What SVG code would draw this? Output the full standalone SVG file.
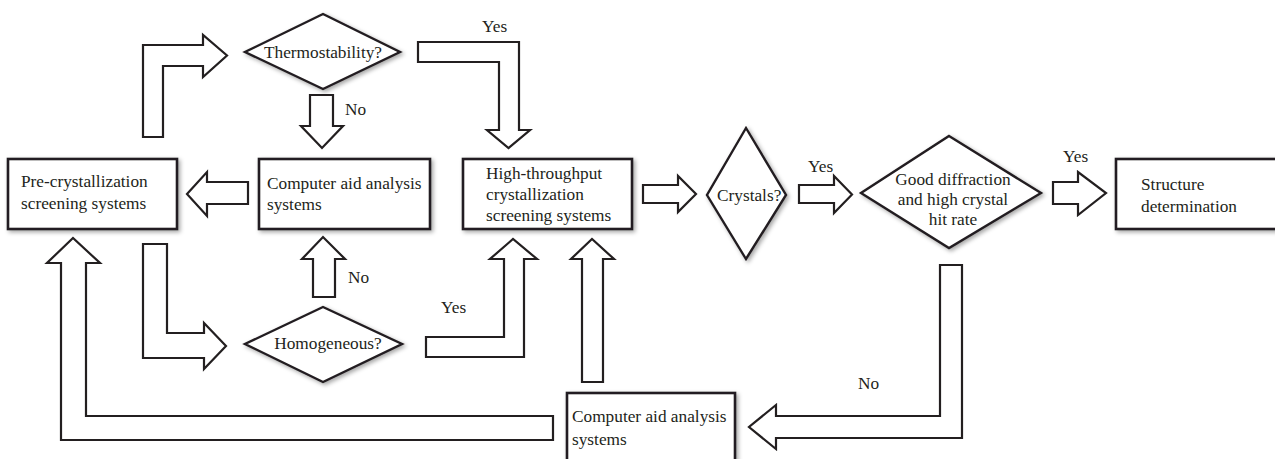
<svg xmlns="http://www.w3.org/2000/svg" width="1275" height="459" viewBox="0 0 1275 459">
<style>
.box{fill:#fff;stroke:#231f20;stroke-width:2.6;filter:url(#sh)}
.dia{fill:#fff;stroke:#231f20;stroke-width:2.4;filter:url(#sh)}
.arr{fill:#fff;stroke:#231f20;stroke-width:2.2;stroke-linejoin:miter}
text{font-family:"Liberation Serif","Times New Roman",serif;font-size:17.3px;fill:#231f20}
</style>
<defs>
<filter id="sh" x="-10%" y="-10%" width="130%" height="140%">
<feDropShadow dx="2" dy="2" stdDeviation="2.2" flood-color="#000" flood-opacity="0.35"/>
</filter>
</defs>
<rect width="1275" height="459" fill="#fff"/>
<g id="connectors">
<polygon class="arr" points="143,137 143,45 203,45 203,35 227,55.5 203,77 203,66 163,66 163,137"/>
<polygon class="arr" points="310,95 333,95 333,126 343,126 322,148 301,126 310,126"/>
<polygon class="arr" points="418,42 519,42 519,130 530,130 508.5,148 487,130 499,130 499,62 418,62"/>
<polygon class="arr" points="248,182 207,182 207,172 187,194 207,216 207,204 248,204"/>
<polygon class="arr" points="143,244 167,244 167,333 204,333 204,323 226,346 204,369 204,358 143,358"/>
<polygon class="arr" points="313,297 313,259 302,259 323,237 345,259 335,259 335,297"/>
<polygon class="arr" points="426,337 504,337 504,259 490,259 513,239 537,259 524,259 524,357 426,357"/>
<polygon class="arr" points="582,382 582,259 571,259 592,239 614,259 603,259 603,382"/>
<polygon class="arr" points="553,416 86,416 86,263 100,263 73,238 47,263 61,263 61,440 553,440"/>
<polygon class="arr" points="643,185 678,185 678,176 696,194 678,212 678,203 643,203"/>
<polygon class="arr" points="799,185 834,185 834,176 852,194.5 834,213 834,203 799,203"/>
<polygon class="arr" points="1053,182 1078,182 1078,172 1106,193 1078,215 1078,204 1053,204"/>
<polygon class="arr" points="940,265 962,265 962,438 776,438 776,449 749,427 776,405 776,416 940,416"/>
<text x="345" y="115">No</text>
<text x="482" y="32">Yes</text>
<text x="348" y="283">No</text>
<text x="441" y="313">Yes</text>
<text x="808" y="172">Yes</text>
<text x="1063" y="162">Yes</text>
<text x="858" y="389">No</text>
</g>
<g id="pre">
<rect class="box" x="8" y="159" width="169" height="70"/>
<text x="21" y="187">Pre-crystallization</text>
<text x="21" y="209">screening systems</text>
</g>
<g id="cad1">
<rect class="box" x="259" y="159" width="171" height="70"/>
<text x="267" y="189">Computer aid analysis</text>
<text x="267" y="210">systems</text>
</g>
<g id="hts">
<rect class="box" x="463" y="159" width="169" height="70"/>
<text x="486" y="179">High-throughput</text>
<text x="486" y="200">crystallization</text>
<text x="486" y="221">screening systems</text>
</g>
<g id="structure">
<rect class="box" x="1116" y="159" width="175" height="70"/>
<text x="1141" y="190">Structure</text>
<text x="1141" y="212">determination</text>
</g>
<g id="cad2">
<rect class="box" x="567" y="393" width="168" height="75"/>
<text x="572" y="422">Computer aid analysis</text>
<text x="572" y="445">systems</text>
</g>
<g id="thermo">
<polygon class="dia" points="323,14 400,52 323,89 245,52"/>
<text x="323" y="58" text-anchor="middle">Thermostability?</text>
</g>
<g id="homog">
<polygon class="dia" points="323,307 402,344 323,382 245,344"/>
<text x="328" y="349" text-anchor="middle">Homogeneous?</text>
</g>
<g id="crystals">
<polygon class="dia" points="746,128 786,195 746,259 707,195"/>
<text x="717" y="201">Crystals?</text>
</g>
<g id="good">
<polygon class="dia" points="949,136 1041,193 949,248 861,193"/>
<text x="953" y="185" text-anchor="middle">Good diffraction</text>
<text x="953" y="205" text-anchor="middle">and high crystal</text>
<text x="953" y="225" text-anchor="middle">hit rate</text>
</g>
</svg>
